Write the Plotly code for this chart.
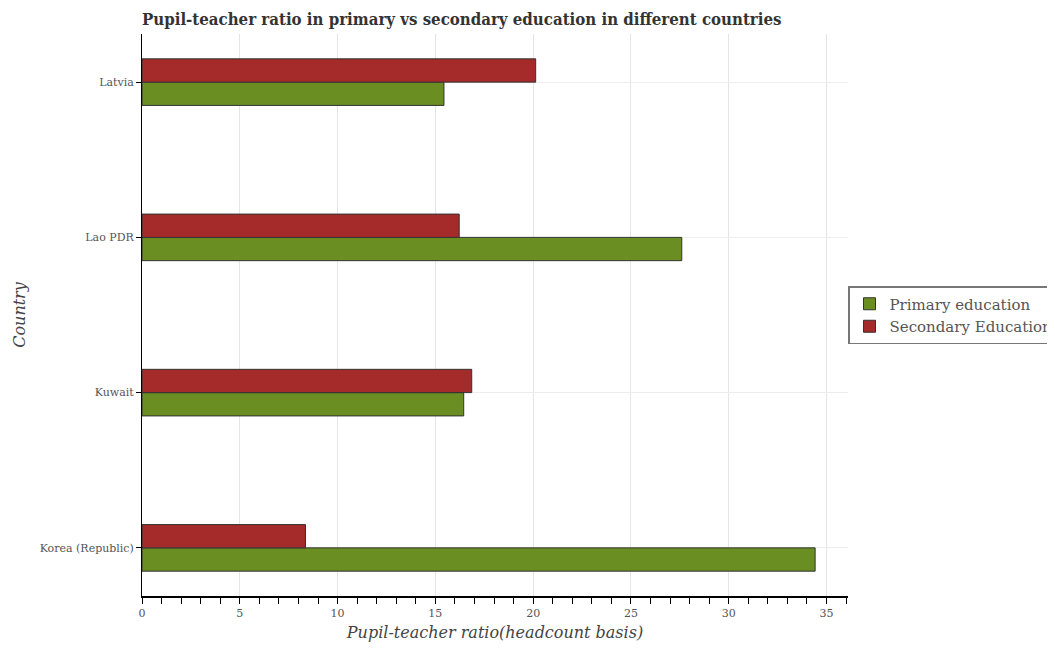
import plotly.graph_objects as go

countries = ['Korea (Republic)', 'Kuwait', 'Lao PDR', 'Latvia']
primary = [34.42, 16.45, 27.6, 15.44]
secondary = [8.36, 16.86, 16.22, 20.13]

fnt = 'DejaVu Serif'

fig = go.Figure()
fig.add_trace(go.Bar(y=countries, x=primary, name='Primary education', orientation='h',
                     marker=dict(color='#6b8e23', line=dict(color='#333333', width=1))))
fig.add_trace(go.Bar(y=countries, x=secondary, name='Secondary Education', orientation='h',
                     marker=dict(color='#a52a2a', line=dict(color='#333333', width=1))))

# page body adds an 8px offset, margins are set against that
fig.update_layout(
    width=1055, height=650,
    barmode='group', bargap=0.70, bargroupgap=0,
    plot_bgcolor='white', paper_bgcolor='white',
    font=dict(family=fnt, color='#555555'),
    title=dict(text='<b>Pupil-teacher ratio in primary vs secondary education in different countries</b>',
               x=134/1055, xanchor='left', y=1 - 11/650, yanchor='middle',
               font=dict(family='DejaVu Serif Condensed', size=16.7, color='#333333')),
    margin=dict(l=134, r=215, t=26, b=62),
    legend=dict(xref='container', x=840/1055, xanchor='left', y=0.5, yanchor='middle',
                bordercolor='#777777', borderwidth=1.5,
                font=dict(size=15, color='#555555'), traceorder='normal', tracegroupgap=4),
    xaxis=dict(range=[0, 36.1], dtick=5, showgrid=True, gridcolor='#e5e5e5', zeroline=False, automargin=False,
               showline=True, linecolor='black', linewidth=1.5, ticks='outside', ticklen=6, tickcolor='black',
               minor=dict(dtick=1, ticks='outside', ticklen=6, tickcolor='black', showgrid=False),
               tickfont=dict(size=11, color='#555555'), mirror=False,
               title=dict(text='<i>Pupil-teacher ratio(headcount basis)</i>', font=dict(size=16, color='#444444'), standoff=8)),
    yaxis=dict(range=[-0.31, 3.31], showgrid=True, gridcolor='#eeeeee', showline=True, linecolor='black', linewidth=1,
               automargin=False, ticks='outside', ticklen=5, tickcolor='black', tickfont=dict(size=11, color='#555555'),
               title=dict(text='<i>Country</i>', font=dict(size=16, color='#444444'), standoff=10)),
)

fig.write_html('out.html')
